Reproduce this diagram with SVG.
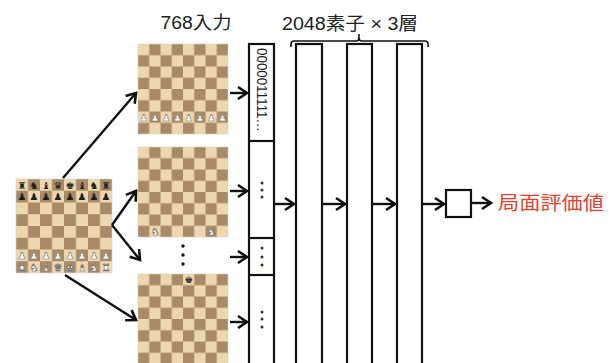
<svg xmlns="http://www.w3.org/2000/svg" xmlns:xlink="http://www.w3.org/1999/xlink" width="614" height="363" viewBox="0 0 614 363">
  <style>
    .lbl { font-family: "Liberation Sans", "Noto Sans CJK JP", sans-serif; fill: #222; }
    .out { font-family: "Noto Sans CJK JP", sans-serif; fill: #e5412b; }
    .pc { font-family: "DejaVu Sans", sans-serif; font-size: 9.4px; text-anchor: middle; }
    .bk { fill: #1e1e1e; }
    .wt { fill: #ffffff; stroke: #7a7a7a; stroke-width: 0.6; }
    .box { fill: #fff; stroke: #111; stroke-width: 2.2; }
    .arrow { fill: none; stroke: #111; stroke-width: 2.4; marker-end: url(#head); }
    .dot { fill: #24305a; }
  </style>
  <defs>
    <pattern id="squares" patternUnits="userSpaceOnUse" width="22.5" height="22.5">
      <rect width="22.5" height="22.5" fill="#ecd7ae"/>
      <rect x="11.25" y="0" width="11.25" height="11.25" fill="#a98a67"/>
      <rect x="0" y="11.25" width="11.25" height="11.25" fill="#a98a67"/>
    </pattern>
    <g id="board">
      <rect width="90" height="90" fill="url(#squares)" stroke="#d8d2c8" stroke-width="0.6"/>
    </g>
    <marker id="head" markerUnits="userSpaceOnUse" markerWidth="16" markerHeight="16" viewBox="-11 -8 13 16" refX="0" refY="0" orient="auto">
      <path d="M-9,-6 L0,0 L-9,6" fill="none" stroke="#111" stroke-width="2.6"/>
    </marker>
  </defs>

  <rect width="614" height="363" fill="#fff"/>

  <!-- starting position -->
  <g id="start-board" transform="translate(16,179) scale(1.0667,1.044)">
    <use xlink:href="#board"/>
    <g class="pc bk">
      <text x="5.6" y="9.2">♜</text><text x="16.9" y="9.2">♞</text><text x="28.1" y="9.2">♝</text><text x="39.4" y="9.2">♛</text>
      <text x="50.6" y="9.2">♚</text><text x="61.9" y="9.2">♝</text><text x="73.1" y="9.2">♞</text><text x="84.4" y="9.2">♜</text>
      <text x="5.6" y="20.4">♟</text><text x="16.9" y="20.4">♟</text><text x="28.1" y="20.4">♟</text><text x="39.4" y="20.4">♟</text>
      <text x="50.6" y="20.4">♟</text><text x="61.9" y="20.4">♟</text><text x="73.1" y="20.4">♟</text><text x="84.4" y="20.4">♟</text>
    </g>
    <g class="pc wt">
      <text x="5.6" y="76.7">♟</text><text x="16.9" y="76.7">♟</text><text x="28.1" y="76.7">♟</text><text x="39.4" y="76.7">♟</text>
      <text x="50.6" y="76.7">♟</text><text x="61.9" y="76.7">♟</text><text x="73.1" y="76.7">♟</text><text x="84.4" y="76.7">♟</text>
      <text x="5.6" y="87.9">♜</text><text x="16.9" y="87.9">♞</text><text x="28.1" y="87.9">♝</text><text x="39.4" y="87.9">♛</text>
      <text x="50.6" y="87.9">♚</text><text x="61.9" y="87.9">♝</text><text x="73.1" y="87.9">♞</text><text x="84.4" y="87.9">♜</text>
    </g>
  </g>

  <!-- white pawn plane -->
  <g id="plane-pawns" transform="translate(138,44)">
    <use xlink:href="#board"/>
    <g class="pc wt">
      <text x="5.6" y="76.7">♟</text><text x="16.9" y="76.7">♟</text><text x="28.1" y="76.7">♟</text><text x="39.4" y="76.7">♟</text>
      <text x="50.6" y="76.7">♟</text><text x="61.9" y="76.7">♟</text><text x="73.1" y="76.7">♟</text><text x="84.4" y="76.7">♟</text>
    </g>
  </g>

  <!-- white knight plane -->
  <g id="plane-knights" transform="translate(138,147)">
    <use xlink:href="#board"/>
    <g class="pc wt">
      <text x="16.9" y="87.9">♞</text><text x="73.1" y="87.9">♞</text>
    </g>
  </g>

  <!-- black king plane -->
  <g id="plane-king" transform="translate(138,274)">
    <use xlink:href="#board"/>
    <g class="pc bk">
      <text x="50.6" y="9.2">♚</text>
    </g>
  </g>

  <g id="planes-ellipsis">
    <circle cx="183" cy="246" r="1.7" fill="#111"/>
    <circle cx="183" cy="255" r="1.7" fill="#111"/>
    <circle cx="183" cy="264" r="1.7" fill="#111"/>
  </g>

  <text class="lbl" x="196" y="29" font-size="18" text-anchor="middle" textLength="71" lengthAdjust="spacingAndGlyphs">768入力</text>

  <!-- input vector -->
  <g id="input-vector">
    <rect class="box" x="249" y="44" width="25" height="330"/>
    <line x1="249" y1="141" x2="274" y2="141" stroke="#111" stroke-width="2.2"/>
    <line x1="249" y1="238" x2="274" y2="238" stroke="#111" stroke-width="2.2"/>
    <line x1="249" y1="275" x2="274" y2="275" stroke="#111" stroke-width="2.2"/>
    <text class="lbl" transform="translate(257,48) rotate(90)" font-size="14" textLength="84" lengthAdjust="spacingAndGlyphs">0000011111…</text>
    <circle class="dot" cx="262" cy="183" r="1.5"/><circle class="dot" cx="262" cy="190" r="1.5"/><circle class="dot" cx="262" cy="197" r="1.5"/>
    <circle class="dot" cx="262" cy="248" r="1.5"/><circle class="dot" cx="262" cy="257" r="1.5"/><circle class="dot" cx="262" cy="265" r="1.5"/>
    <circle class="dot" cx="262" cy="312" r="1.5"/><circle class="dot" cx="262" cy="319" r="1.5"/><circle class="dot" cx="262" cy="327" r="1.5"/>
  </g>

  <!-- hidden layers -->
  <g id="layer-1"><rect class="box" x="296" y="44" width="26" height="330"/></g>
  <g id="layer-2"><rect class="box" x="347" y="44" width="25" height="330"/></g>
  <g id="layer-3"><rect class="box" x="397" y="44" width="25" height="330"/></g>

  <g id="layers-label">
    <path d="M291,47 L291,44 Q291,41 294,41 L356,41 Q359,41 359,38 L359,34 M359,38 Q359,41 362,41 L425,41 Q428,41 428,44 L428,47" fill="none" stroke="#111" stroke-width="1.6"/>
    <text class="lbl" x="350" y="30" font-size="18" text-anchor="middle" textLength="136" lengthAdjust="spacingAndGlyphs">2048素子 × 3層</text>
  </g>

  <!-- output unit -->
  <g id="output">
    <rect class="box" x="446" y="190" width="25" height="27"/>
    <text class="out" x="498" y="210" font-size="19" textLength="106" lengthAdjust="spacingAndGlyphs">局面評価値</text>
  </g>

  <g id="connectors">
    <line class="arrow" x1="63" y1="178" x2="136" y2="93"/>
    <line class="arrow" x1="112" y1="225" x2="136" y2="191"/>
    <line class="arrow" x1="112" y1="225" x2="140" y2="260"/>
    <line class="arrow" x1="65" y1="275" x2="136" y2="320"/>
    <line class="arrow" x1="230" y1="93" x2="247" y2="93"/>
    <line class="arrow" x1="230" y1="191" x2="247" y2="191"/>
    <line class="arrow" x1="230" y1="257" x2="247" y2="257"/>
    <line class="arrow" x1="230" y1="322" x2="247" y2="322"/>
    <line class="arrow" x1="275" y1="204" x2="294" y2="204"/>
    <line class="arrow" x1="323" y1="204" x2="345" y2="204"/>
    <line class="arrow" x1="373" y1="204" x2="395" y2="204"/>
    <line class="arrow" x1="423" y1="204" x2="444" y2="204"/>
    <line class="arrow" x1="472" y1="203" x2="491" y2="203"/>
  </g>
</svg>
